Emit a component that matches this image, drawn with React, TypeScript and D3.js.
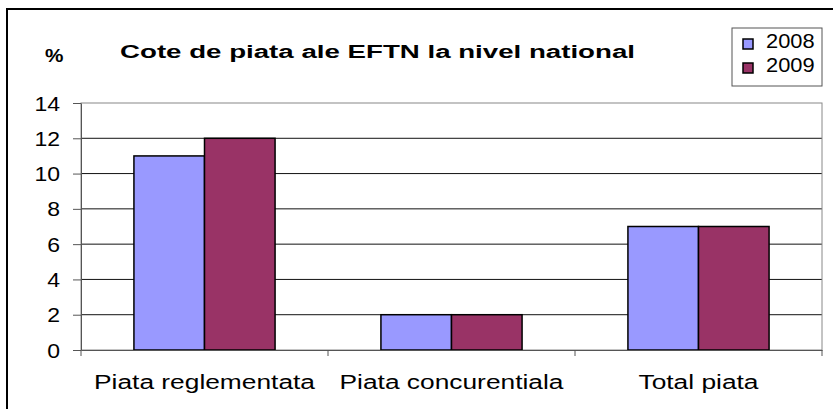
import { useEffect, useRef } from "react";
import * as d3 from "d3";

const categories = ["Piata reglementata", "Piata concurentiala", "Total piata"];
const seriesNames = ["2008", "2009"];
const values2008 = [11, 2, 7];
const values2009 = [12, 2, 7];
const yTicks = [0, 2, 4, 6, 8, 10, 12, 14];
const colors = ["#9999FF", "#993366"];

// the original picture is stretched sideways, so text gets widened to match
function stretch(sel: d3.Selection<any, any, any, any>, k: number) {
    sel.each(function () {
        const el = this as SVGTextElement;
        const w = el.getComputedTextLength();
        d3.select(el).attr("textLength", w * k).attr("lengthAdjust", "spacingAndGlyphs");
    });
}

export default function App() {
    const chartRef = useRef<SVGSVGElement | null>(null);

    useEffect(() => {
        if (!chartRef.current) return;
        const width = 833;
        const height = 409;
        const left = 81, right = 822, top = 103, bottom = 350;
        const font = "'Liberation Sans', Arial, sans-serif";

        const svg = d3.select(chartRef.current);
        svg.selectAll("*").remove();
        svg.attr("width", width).attr("height", height);

        svg.append("rect").attr("width", width).attr("height", height).attr("fill", "#fff");
        // outer chart frame (runs off the picture right and bottom)
        svg.append("rect")
            .attr("x", 7).attr("y", 9)
            .attr("width", 900).attr("height", 500)
            .attr("fill", "none").attr("stroke", "#000").attr("stroke-width", 2);

        const x = d3.scaleBand().domain(categories).range([left, right]);
        const y = d3.scaleLinear().domain([0, 14]).range([bottom, top]);
        const barW = x.bandwidth() / 3.5;
        const x1 = d3.scaleBand().domain(seriesNames).range([0, barW * 2]);

        // gridlines
        svg.append("g").selectAll("line").data(yTicks.filter(t => t > 0 && t < 14)).join("line")
            .attr("x1", left).attr("x2", right)
            .attr("y1", d => y(d)).attr("y2", d => y(d))
            .attr("stroke", "#111").attr("stroke-width", 1);

        // plot area border
        svg.append("rect")
            .attr("x", left).attr("y", top)
            .attr("width", right - left).attr("height", bottom - top)
            .attr("fill", "none").attr("stroke", "#888").attr("stroke-width", 1);

        // bars
        const series = [values2008, values2009];
        series.forEach((vals, si) => {
            svg.append("g").selectAll("rect").data(vals).join("rect")
                .attr("x", (d, i) => (x(categories[i]) as number) + (x.bandwidth() - barW * 2) / 2 + (x1(seriesNames[si]) as number))
                .attr("y", d => y(d))
                .attr("width", barW)
                .attr("height", d => y(0) - y(d))
                .attr("fill", colors[si])
                .attr("stroke", "#000").attr("stroke-width", 1.5);
        });

        // y axis
        const yAxis = svg.append("g").attr("transform", `translate(${left},0)`)
            .call(d3.axisLeft(y).tickValues(yTicks).tickSize(8).tickSizeOuter(0));
        yAxis.select(".domain").attr("stroke", "#555");
        yAxis.selectAll(".tick line").attr("stroke", "#555");
        const yLabels = yAxis.selectAll(".tick text")
            .attr("font-family", font).attr("font-size", 19.5).attr("fill", "#000")
            .attr("x", -21).attr("dy", "0.36em");
        stretch(yLabels, 1.18);

        // x axis
        const xAxis = svg.append("g").attr("transform", `translate(0,${bottom})`)
            .call(d3.axisBottom(x).tickSize(0).tickSizeOuter(0));
        xAxis.select(".domain").attr("stroke", "#555");
        const xLabels = xAxis.selectAll(".tick text")
            .attr("font-family", font).attr("font-size", 19.5).attr("fill", "#000")
            .attr("y", 39).attr("dy", 0);
        stretch(xLabels, 1.35);
        const bounds = [...categories.map(c => x(c) as number), right];
        svg.append("g").selectAll("line").data(bounds).join("line")
            .attr("x1", d => d).attr("x2", d => d)
            .attr("y1", bottom).attr("y2", bottom + 6)
            .attr("stroke", "#555");

        // title
        svg.append("text")
            .attr("x", 120).attr("y", 58)
            .attr("font-family", font).attr("font-size", 18).attr("font-weight", "bold")
            .attr("textLength", 515).attr("lengthAdjust", "spacingAndGlyphs")
            .text("Cote de piata ale EFTN la nivel national");
        const pct = svg.append("text")
            .attr("x", 45).attr("y", 62)
            .attr("font-family", font).attr("font-size", 18).attr("font-weight", "bold")
            .text("%");
        stretch(pct, 1.15);

        // legend
        const lg = svg.append("g");
        lg.append("rect")
            .attr("x", 732).attr("y", 28).attr("width", 90).attr("height", 58)
            .attr("fill", "#fff").attr("stroke", "#555").attr("stroke-width", 1);
        seriesNames.forEach((name, i) => {
            lg.append("rect")
                .attr("x", 743).attr("y", 39 + i * 24).attr("width", 10).attr("height", 10)
                .attr("fill", colors[i]).attr("stroke", "#000").attr("stroke-width", 1.5);
            const t = lg.append("text")
                .attr("x", 766).attr("y", 48 + i * 24)
                .attr("font-family", font).attr("font-size", 19.5)
                .text(name);
            stretch(t, 1.12);
        });
    }, []);

    return <svg ref={chartRef} style={{ position: "absolute", left: 0, top: 0 }} />;
}
